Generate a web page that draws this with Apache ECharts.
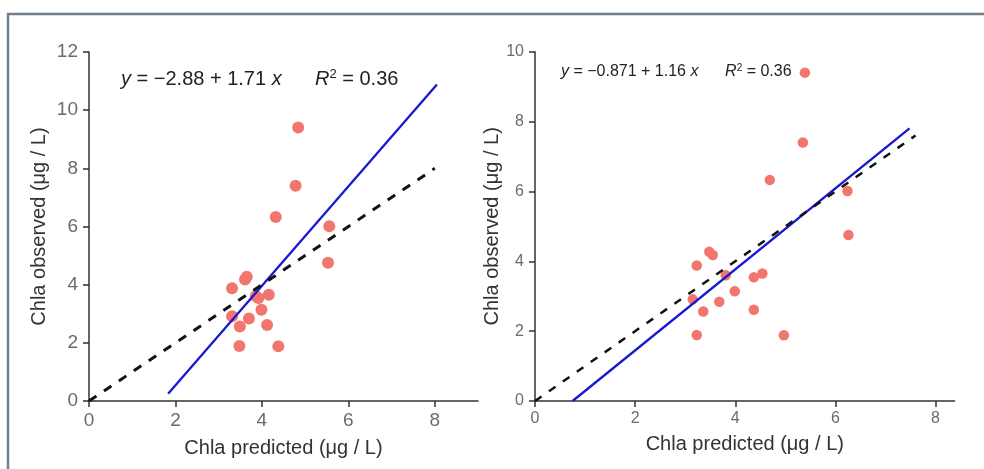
<!DOCTYPE html>
<html>
<head>
<meta charset="utf-8">
<script src="https://cdn.jsdelivr.net/npm/echarts@6/dist/echarts.min.js"></script>
<style>
  html, body { margin: 0; padding: 0; background: #ffffff; }
  #chart { width: 984px; height: 469px; }
</style>
</head>
<body>
<div id="chart"></div>
<script>
// Observed chlorophyll-a for each sampling point (µg/L)
const observed = [9.40, 7.40, 6.33, 6.01, 4.75, 4.27, 4.18, 3.88, 3.60, 3.54, 3.65, 3.14, 2.91, 2.84, 2.56, 2.61, 1.89, 1.88];
// Predictions of model A (left panel) and model B (right panel)
const predictedA = [4.84, 4.78, 4.32, 5.56, 5.53, 3.65, 3.61, 3.31, 3.86, 3.92, 4.16, 3.99, 3.31, 3.70, 3.49, 4.12, 3.48, 4.38];
const predictedB = [5.39, 5.35, 4.69, 6.24, 6.26, 3.48, 3.55, 3.23, 3.81, 4.37, 4.54, 3.99, 3.15, 3.68, 3.36, 4.37, 3.23, 4.97];

// Regression fits: [intercept, slope], R², and x span of the drawn fit line
const fitA = [-2.88, 1.71];
const fitB = [-0.871, 1.16];
const r2A = '0.36';
const r2B = '0.36';
const fitSpanA = [1.83, 8.05];
const fitSpanB = [0.751, 7.48];
// 1:1 reference line span
const oneToOneA = [0, 8];
const oneToOneB = [0, 7.6];

const xTicks = [0, 2, 4, 6, 8];
const yTicksA = [0, 2, 4, 6, 8, 10, 12];
const yTicksB = [0, 2, 4, 6, 8, 10];

const xTitle = 'Chla predicted (μg / L)';
const yTitle = 'Chla observed (μg / L)';

const FONT = '"Liberation Sans", Arial, sans-serif';
const POINT = '#f3766e';

function pairs(xs, ys) { return xs.map((x, i) => [x, ys[i]]); }
function fitLine(fit, span) { return span.map(x => [x, fit[0] + fit[1] * x]); }

function axisX(idx, max, labelSize, nameGap) {
  return {
    type: 'value', gridIndex: idx, min: 0, max: max,
    name: xTitle, nameLocation: 'middle', nameGap: nameGap,
    nameTextStyle: { fontSize: 20, color: '#333', fontFamily: FONT },
    axisLine: { show: true, onZero: false, lineStyle: { color: '#333', width: 1.5 } },
    axisTick: { show: true, length: 6, customValues: xTicks, lineStyle: { color: '#333', width: 1.5 } },
    axisLabel: { customValues: xTicks, fontSize: labelSize, color: '#6b6b6b', fontFamily: FONT, margin: 10 },
    splitLine: { show: false }
  };
}
function axisY(idx, max, ticks, labelSize, nameGap) {
  return {
    type: 'value', gridIndex: idx, min: 0, max: max,
    name: yTitle, nameLocation: 'middle', nameGap: nameGap,
    nameTextStyle: { fontSize: 20, color: '#333', fontFamily: FONT },
    axisLine: { show: true, onZero: false, lineStyle: { color: '#333', width: 1.5 } },
    axisTick: { show: true, length: 6, customValues: ticks, lineStyle: { color: '#333', width: 1.5 } },
    axisLabel: { customValues: ticks, fontSize: labelSize, color: '#6b6b6b', fontFamily: FONT, margin: 11 },
    splitLine: { show: false }
  };
}

function eqText(fit, r2) {
  const b0 = fit[0] < 0 ? '\u2212' + Math.abs(fit[0]) : String(fit[0]);
  return '{i|y} = ' + b0 + ' + ' + fit[1] + ' {i|x}      {i|R}{s|2} = ' + r2;
}
function eqRich(size) {
  return {
    i: { fontStyle: 'italic', fontSize: size, fontFamily: FONT, color: '#222' },
    s: { fontSize: Math.round(size * 0.65), fontFamily: FONT, color: '#222', verticalAlign: 'top', padding: [0, 0, Math.round(size * 0.5), 0] }
  };
}

const chart = echarts.init(document.getElementById('chart'), null, { renderer: 'canvas' });

chart.setOption({
  animation: false,
  backgroundColor: '#ffffff',
  textStyle: { fontFamily: FONT },
  grid: [
    { left: 89, top: 52, width: 389, height: 349 },
    { left: 535, top: 51.7, width: 419.6, height: 349.3 }
  ],
  xAxis: [axisX(0, 9, 19, 37), axisX(1, 8.38, 16, 33)],
  yAxis: [axisY(0, 12, yTicksA, 19, 40), axisY(1, 10, yTicksB, 16, 33)],
  graphic: [
    {
      type: 'rect', silent: true, z: 0,
      shape: { x: 8, y: 14, width: 1000, height: 500 },
      style: { fill: 'none', stroke: '#6f7f8e', lineWidth: 2.5 }
    },
    {
      type: 'text', left: 121, top: 68, z: 10,
      style: { text: eqText(fitA, r2A), fontSize: 20, fontFamily: FONT, fill: '#222', rich: eqRich(20) }
    },
    {
      type: 'text', left: 561, top: 63, z: 10,
      style: { text: eqText(fitB, r2B), fontSize: 16, fontFamily: FONT, fill: '#222', rich: eqRich(16) }
    }
  ],
  series: [
    {
      type: 'scatter', xAxisIndex: 0, yAxisIndex: 0, z: 2,
      data: pairs(predictedA, observed), symbolSize: 12,
      itemStyle: { color: POINT, opacity: 1 }
    },
    {
      type: 'line', xAxisIndex: 0, yAxisIndex: 0, z: 3, symbol: 'none',
      data: fitLine(fitA, fitSpanA),
      lineStyle: { color: '#1818d0', width: 2.3 }
    },
    {
      type: 'line', xAxisIndex: 0, yAxisIndex: 0, z: 4, symbol: 'none',
      data: fitLine([0, 1], oneToOneA),
      lineStyle: { color: '#111', width: 3, type: [9, 9] }
    },
    {
      type: 'scatter', xAxisIndex: 1, yAxisIndex: 1, z: 2,
      data: pairs(predictedB, observed), symbolSize: 10.5,
      itemStyle: { color: POINT, opacity: 1 }
    },
    {
      type: 'line', xAxisIndex: 1, yAxisIndex: 1, z: 3, symbol: 'none',
      data: fitLine(fitB, fitSpanB),
      lineStyle: { color: '#1818d0', width: 2.3 }
    },
    {
      type: 'line', xAxisIndex: 1, yAxisIndex: 1, z: 4, symbol: 'none',
      data: fitLine([0, 1], oneToOneB),
      lineStyle: { color: '#111', width: 2.5, type: [8, 9] }
    }
  ]
});
</script>
</body>
</html>
